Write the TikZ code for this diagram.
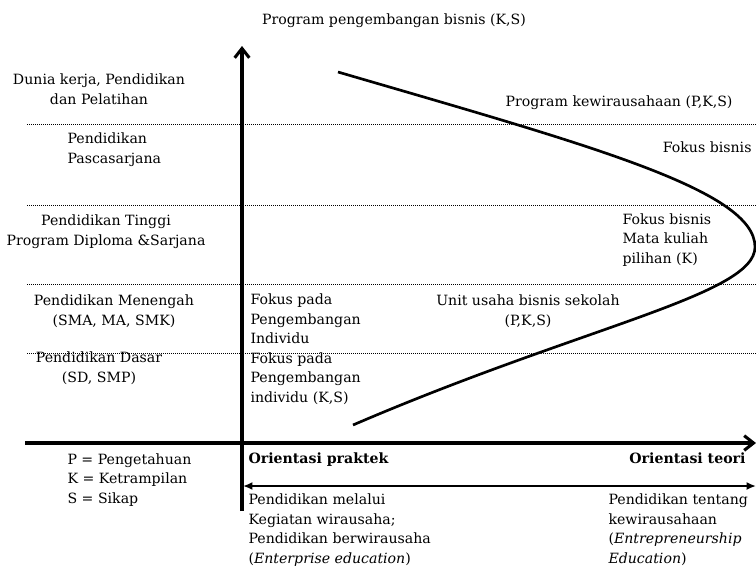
\documentclass[tikz,border=0pt]{standalone}
\usepackage{fontspec}
\setmainfont{DejaVu Serif}
\usetikzlibrary{arrows.meta}

\tikzset{every picture/.style={line width=0.75pt},
  lbl/.style={inner sep=0pt, font=\fontsize{10.6}{14.6}\selectfont},
  levelline/.style={dash pattern=on 0.75pt off 0.75pt, line width=0.75pt},
  axisline/.style={line width=2.3pt},
}

\begin{document}
\begin{tikzpicture}[x=0.75pt,y=0.75pt,yscale=-1,xscale=1]
        \useasboundingbox (0,0) rectangle (756,569);

        %Coordinates of the axes
        \coordinate (ytop) at (242,46);
        \coordinate (ybot) at (242,511);
        \coordinate (xleft) at (25,443);
        \coordinate (xright) at (756,443);
        \coordinate (pleft) at (243,486);
        \coordinate (pright) at (756,486);

        %Dotted level lines
        \foreach \yy in {124,205,284,353} {
          \draw [levelline] (27,\yy) -- (756,\yy) ;
        }

        %Vertical axis
        \draw [axisline, -{Straight Barb[length=7pt,width=11pt]}] (ybot) -- (ytop) ;
        %Horizontal axis
        \draw [axisline, -{Straight Barb[length=7pt,width=11pt]}] (xleft) -- (xright) ;
        %Double arrow praktek - teori
        \draw [line width=2pt, {Latex[length=7pt,width=6pt]}-{Latex[length=7pt,width=6pt]}] (pleft) -- (pright) ;

        %Curve
        \draw [line width=2pt] (338,72) .. controls (588,145) and (755,190) .. (755,247)
              .. controls (755,295) and (583,326) .. (353,425) ;

        % Text Node (multi-line nodes sit on the baseline of their last line)
        \node (bisnis) [lbl, anchor=base] at (394,24) {Program pengembangan bisnis (K,S)};
        % Text Node
        \node (dunia) [lbl, anchor=base, align=center] at (99,104) {Dunia kerja, Pendidikan\\dan Pelatihan};
        % Text Node
        \node (pasca) [lbl, anchor=base west, align=left] at (67,163) {Pendidikan\\Pascasarjana};
        % Text Node
        \node (tinggi) [lbl, anchor=base, align=center] at (106,245) {Pendidikan Tinggi\\Program Diploma \&Sarjana};
        % Text Node
        \node (menengah) [lbl, anchor=base, align=center] at (114,325) {Pendidikan Menengah\\(SMA, MA, SMK)};
        % Text Node
        \node (dasar) [lbl, anchor=base, align=center] at (99,382) {Pendidikan Dasar\\(SD, SMP)};
        % Text Node
        \node (individu) [lbl, anchor=base west, align=left] at (250,402) {Fokus pada\\Pengembangan\\Individu\\Fokus pada\\Pengembangan\\individu (K,S)};
        % Text Node
        \node (kwu) [lbl, anchor=base east] at (733,106) {Program kewirausahaan (P,K,S)};
        % Text Node
        \node (fokus) [lbl, anchor=base east] at (752,152) {Fokus bisnis};
        % Text Node
        \node (matakuliah) [lbl, anchor=base west, align=left] at (622,263) {Fokus bisnis\\Mata kuliah\\pilihan (K)};
        % Text Node
        \node (unit) [lbl, anchor=base, align=center] at (528,325) {Unit usaha bisnis sekolah\\(P,K,S)};
        % Text Node
        \node (legend) [lbl, anchor=base west, align=left] at (67,503) {P = Pengetahuan\\K = Ketrampilan\\S = Sikap};
        % Text Node
        \node (praktek) [lbl, anchor=base west, font=\fontsize{10.6}{14.6}\selectfont\bfseries] at (248,463) {Orientasi praktek};
        % Text Node
        \node (teori) [lbl, anchor=base east, font=\fontsize{10.6}{14.6}\selectfont\bfseries] at (746,463) {Orientasi teori};
        % Text Node
        \node (melalui) [lbl, anchor=base west, align=left] at (248,563) {Pendidikan melalui\\Kegiatan wirausaha;\\Pendidikan berwirausaha\\(\textit{Enterprise education})};
        % Text Node
        \node (tentang) [lbl, anchor=base west, align=left] at (608,563) {Pendidikan tentang\\kewirausahaan\\(\textit{Entrepreneurship}\\\textit{Education})};

\end{tikzpicture}
\end{document}
